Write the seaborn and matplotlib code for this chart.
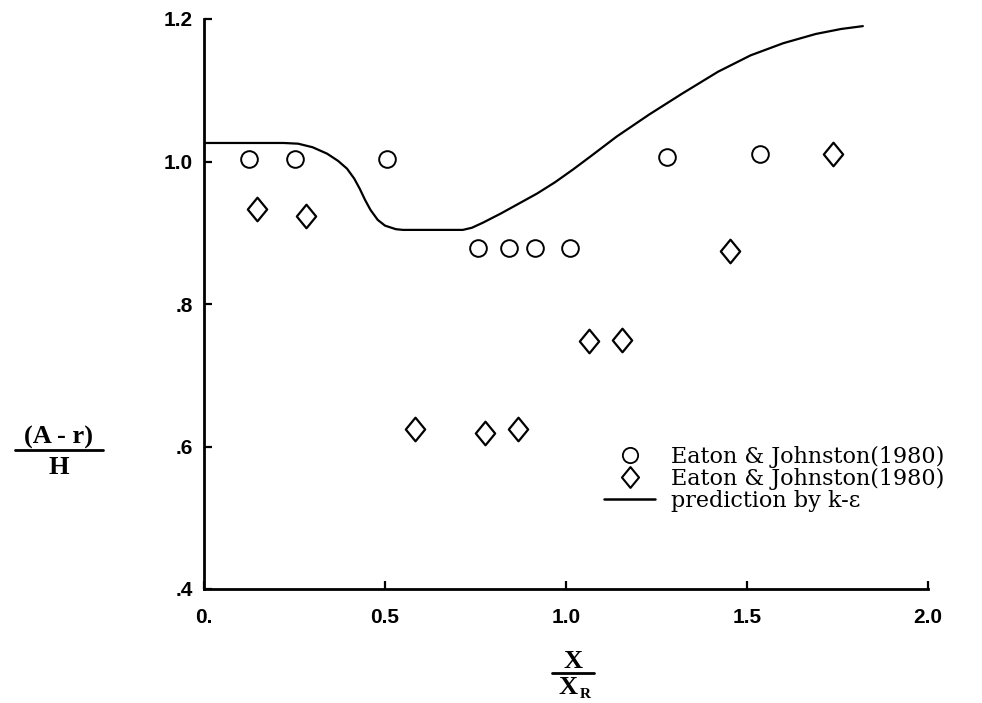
import matplotlib
matplotlib.use("Agg")
import matplotlib.pyplot as plt
from matplotlib.lines import Line2D
from matplotlib.path import Path
import pandas as pd
import seaborn as sns

# Eaton & Johnston (1980), open circles
circle_x = [0.123, 0.250, 0.505, 0.757, 0.843, 0.915, 1.011, 1.279, 1.535]
circle_y = [1.003, 1.003, 1.003, 0.879, 0.879, 0.879, 0.879, 1.007, 1.011]

# Eaton & Johnston (1980), diamonds
diamond_x = [0.146, 0.282, 0.583, 0.776, 0.867, 1.064, 1.155, 1.453, 1.738]
diamond_y = [0.934, 0.923, 0.624, 0.619, 0.624, 0.748, 0.750, 0.875, 1.011]

# k-epsilon prediction
pred_x = [0.000, 0.220, 0.260, 0.300, 0.340, 0.370, 0.395, 0.415, 0.430,
          0.445, 0.460, 0.480, 0.500, 0.530, 0.550, 0.715, 0.740, 0.770,
          0.820, 0.870, 0.920, 0.970, 1.020, 1.070, 1.140, 1.230, 1.320,
          1.420, 1.510, 1.600, 1.690, 1.760, 1.820]
pred_y = [1.026, 1.026, 1.025, 1.020, 1.011, 1.001, 0.990, 0.976, 0.962,
          0.946, 0.932, 0.918, 0.910, 0.905, 0.904, 0.904, 0.907, 0.914,
          0.927, 0.941, 0.955, 0.971, 0.989, 1.008, 1.035, 1.066, 1.095,
          1.126, 1.149, 1.166, 1.179, 1.186, 1.190]

x_ticks = [0.0, 0.5, 1.0, 1.5, 2.0]
x_tick_labels = ["0.", "0.5", "1.0", "1.5", "2.0"]
y_ticks = [0.4, 0.6, 0.8, 1.0, 1.2]
y_tick_labels = [".4", ".6", ".8", "1.0", "1.2"]
legend_labels = ["Eaton & Johnston(1980)", "Eaton & Johnston(1980)",
                 "prediction by k-\u03b5"]

circles = pd.DataFrame({"x": circle_x, "y": circle_y})
diamonds = pd.DataFrame({"x": diamond_x, "y": diamond_y})
prediction = pd.DataFrame({"x": pred_x, "y": pred_y})

sns.set_style("ticks")
plt.rcParams["font.family"] = ["DejaVu Sans"]

W, H = 982, 703
fig = plt.figure(figsize=(W / 100, H / 100), dpi=100)
ax = fig.add_axes([204 / W, 1 - 589 / H, (928 - 204) / W, (589 - 19) / H])

diamond_marker = Path([(0, 1), (0.82, 0), (0, -1), (-0.82, 0), (0, 1)],
                      [Path.MOVETO, Path.LINETO, Path.LINETO, Path.LINETO,
                       Path.CLOSEPOLY])

sns.lineplot(data=prediction, x="x", y="y", ax=ax, color="black",
             linewidth=1.6, sort=False, estimator=None)
sns.scatterplot(data=circles, x="x", y="y", ax=ax, marker="o", s=12 ** 2,
                facecolor="white", edgecolor="black", linewidth=1.4, zorder=3)
sns.scatterplot(data=diamonds, x="x", y="y", ax=ax, marker=diamond_marker,
                s=17 ** 2, facecolor="white", edgecolor="black",
                linewidth=1.6, zorder=3)

ax.set_xlim(0, 2.0)
ax.set_ylim(0.4, 1.2)
ax.set_xticks(x_ticks)
ax.set_xticklabels(x_tick_labels)
ax.set_yticks(y_ticks)
ax.set_yticklabels(y_tick_labels)
ax.set_xlabel("")
ax.set_ylabel("")
for side in ("top", "right"):
    ax.spines[side].set_visible(False)
for side in ("left", "bottom"):
    ax.spines[side].set_linewidth(2.0)
    ax.spines[side].set_color("black")

ax.tick_params(axis="both", direction="in", length=6, width=1.6,
               colors="black")
ax.tick_params(axis="x", pad=14)
ax.tick_params(axis="y", pad=8)
for lab in ax.get_xticklabels() + ax.get_yticklabels():
    lab.set_fontfamily("Liberation Sans")
    lab.set_fontweight("bold")
    lab.set_fontsize(15)

# legend
handles = [
    Line2D([], [], ls="none", marker="o", ms=11, mfc="white", mec="black",
           mew=1.3),
    Line2D([], [], ls="none", marker=diamond_marker, ms=15, mfc="white",
           mec="black", mew=1.5),
    Line2D([], [], color="black", lw=1.8),
]
ax.legend(handles, legend_labels, loc="upper left",
          bbox_to_anchor=(604 / W, 1 - 446 / H), bbox_transform=fig.transFigure,
          frameon=False, borderpad=0, borderaxespad=0, handlelength=2.3,
          handletextpad=0.7, labelspacing=0.0, labelcolor="black",
          prop={"family": "DejaVu Serif", "size": 16})

# axis labels drawn as stacked fractions
label_font = dict(family="Liberation Serif", weight="bold", size=19,
                  color="black", ha="center", va="center")
fig.text(59 / W, 1 - 437 / H, "(A - r)", **label_font)
fig.add_artist(Line2D([15 / W, 103 / W], [1 - 450 / H, 1 - 450 / H],
                      color="black", lw=2.0, transform=fig.transFigure))
fig.text(59 / W, 1 - 468 / H, "H", **label_font)

fig.text(573 / W, 1 - 661 / H, "X", **label_font)
fig.add_artist(Line2D([552 / W, 594 / W], [1 - 673 / H, 1 - 673 / H],
                      color="black", lw=2.0, transform=fig.transFigure))
fig.text(568 / W, 1 - 688 / H, "X", **label_font)
fig.text(585 / W, 1 - 694 / H, "R",
         **{**label_font, "size": 11})

fig.savefig("out.png", dpi=100, facecolor="white")
